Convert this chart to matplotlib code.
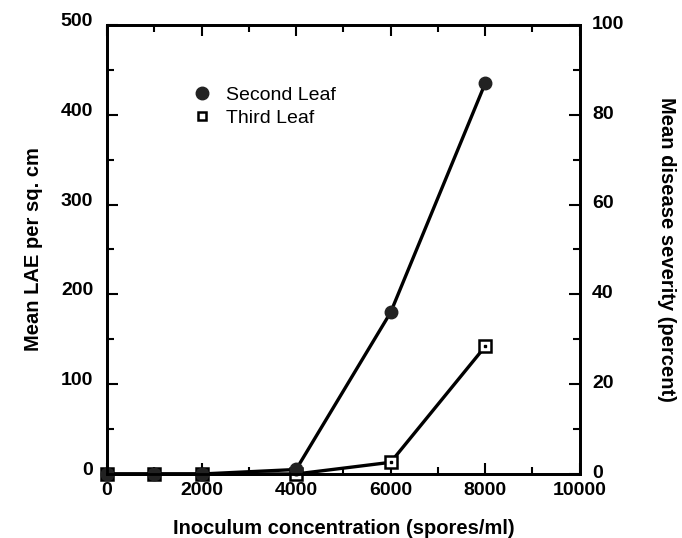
import matplotlib
matplotlib.use('Agg')
import matplotlib.pyplot as plt
from matplotlib.ticker import MultipleLocator
from matplotlib.transforms import ScaledTranslation

plt.rcParams['font.family'] = ['Liberation Sans', 'DejaVu Sans']

# inoculum concentration (spores/ml)
conc = [0, 1000, 2000, 4000, 6000, 8000]
second_leaf = [0, 0, 0, 5, 180, 435]
third_leaf = [0, 0, 0, 0, 13, 142]

fig = plt.figure(figsize=(6.82, 5.38), dpi=100)
ax = fig.add_axes([0.157, 0.119, 0.693, 0.8345])

ax.plot(conc, third_leaf, color='black', lw=2.4, marker='s', ms=8,
        mfc='white', mec='black', mew=1.8, label='Third Leaf', zorder=3,
        clip_on=False)
ax.plot(conc, third_leaf, ls='none', marker='s', ms=2, color='black',
        zorder=4, clip_on=False)
ax.plot(conc, second_leaf, color='black', lw=2.4, marker='o', ms=9,
        mfc='#222222', mec='#222222', label='Second Leaf', zorder=5,
        clip_on=False)

ax.set_xlim(0, 10000)
ax.set_ylim(0, 500)
ax.xaxis.set_major_locator(MultipleLocator(2000))
ax.xaxis.set_minor_locator(MultipleLocator(1000))
ax.yaxis.set_major_locator(MultipleLocator(100))
ax.yaxis.set_minor_locator(MultipleLocator(50))
ax.tick_params(which='both', direction='in', top=True, width=1.5)
ax.tick_params(which='major', length=8, labelsize=14)
ax.tick_params(axis='y', pad=10)
ax.tick_params(axis='x', pad=6)
ax.tick_params(which='minor', length=5)
for s in ax.spines.values():
    s.set_linewidth(2)

for lab in ax.get_xticklabels() + ax.get_yticklabels():
    lab.set_fontweight('bold')
# left labels sit a little above their ticks
for lab in ax.get_yticklabels():
    lab.set_transform(lab.get_transform() +
                      ScaledTranslation(0, 4 / 72, fig.dpi_scale_trans))

ax.set_xlabel('Inoculum concentration (spores/ml)', fontsize=14.5,
              fontweight='bold', labelpad=14)
ax.set_ylabel('Mean LAE per sq. cm', fontsize=14.5, fontweight='bold',
              labelpad=13)

ax2 = ax.twinx()
ax2.set_ylim(0, 100)
ax2.yaxis.set_major_locator(MultipleLocator(20))
ax2.yaxis.set_minor_locator(MultipleLocator(10))
ax2.tick_params(which='both', direction='in', width=1.5)
ax2.tick_params(which='major', length=8, labelsize=14, pad=9)
ax2.tick_params(which='minor', length=5)
for lab in ax2.get_yticklabels():
    lab.set_fontweight('bold')
    lab.set_transform(lab.get_transform() +
                      ScaledTranslation(0, 2 / 72, fig.dpi_scale_trans))
ax2.set_ylabel('Mean disease severity (percent)', fontsize=14.5,
               fontweight='bold', rotation=-90, labelpad=37)
for s in ax2.spines.values():
    s.set_linewidth(2)

h1 = ax.plot([], [], ls='none', marker='o', ms=9, color='#222222')[0]
h2 = ax.plot([], [], ls='none', marker='s', ms=6, mfc='white', mec='black',
             mew=1.8)[0]
ax.legend([h1, h2], ['Second Leaf', 'Third Leaf'], loc='upper left',
          bbox_to_anchor=(0.144, 0.903), frameon=False, fontsize=14,
          handlelength=1.0, handletextpad=0.7, labelspacing=0.3)

fig.savefig('out.png', dpi=100)
